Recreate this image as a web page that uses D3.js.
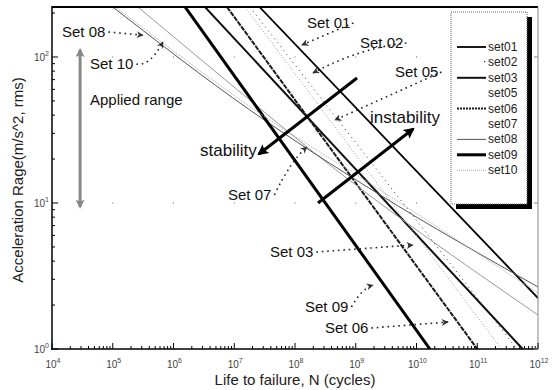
<!DOCTYPE html>
<html>
<head>
<meta charset="utf-8">
<script src="https://cdn.jsdelivr.net/npm/d3@7"></script>
<style>
  body { margin: 0; background: #fff; }
  svg { display: block; font-family: "Liberation Sans", Arial, sans-serif; }
</style>
</head>
<body>
<script>
// S-N curves, [cycles N, acceleration S]
const set01 = [[2.6e7, 220], [1e12, 2.23]];
const set02 = [[1.8e7, 220], [4.5e11, 1]];
const set03 = [[3.3e6, 220], [5.6e11, 1]];
const set05 = [[1.5e7, 220], [2.5e11, 1]];
const set06 = [[7.6e6, 220], [1.0e11, 1]];
const set07 = [[2.6e5, 220], [1.8e7, 50.7], [1.57e8, 24.2], [1e12, 1.71]];
const set08 = [[1.0e5, 220], [1.8e7, 43.4], [2.24e9, 11.7], [1e12, 2.66]];
const set09 = [[1.55e6, 220], [1.66e10, 1]];
const set10 = [[1.12e5, 220], [1.95e7, 44.8], [2.5e9, 12.3], [1e12, 2.42]];

const setNames = ["set01", "set02", "set03", "set05", "set06", "set07", "set08", "set09", "set10"];
const setData = [set01, set02, set03, set05, set06, set07, set08, set09, set10];

// where each "Set xx" callout points, [N, S]
const calloutNames = ["Set 08", "Set 10", "Set 01", "Set 02", "Set 05", "Set 07", "Set 03", "Set 09", "Set 06"];
const calloutTips = [[3.15e5, 141], [6.7e5, 127], [1.3e8, 121], [1.98e8, 77.7], [4.55e8, 37],
                     [1.57e8, 24.2], [8.75e9, 5.16], [1.92e9, 2.74], [3.3e10, 1.53]];

const appliedRangeN = 2.9e4;
const appliedRange = [9.4, 112];

const xDecades = [4, 5, 6, 7, 8, 9, 10, 11, 12];
const yDecades = [0, 1, 2];

const width = 554, height = 390;
const svg = d3.select("body").append("svg").attr("width", width).attr("height", height);

const x = d3.scaleLog().domain([1e4, 1e12]).range([52, 538]);
const y = d3.scaleLog().domain([1, 220]).range([349, 7]);

// line styles
const style = {
  set01: {c: "#000", w: 1.8, d: null},
  set02: {c: "#333", w: 1, d: "1,4"},
  set03: {c: "#111", w: 2, d: null},
  set05: {c: "#999", w: 1, d: "1,2"},
  set06: {c: "#1a1a1a", w: 2, d: "5,1"},
  set07: {c: "#999", w: 1, d: null},
  set08: {c: "#555", w: 1, d: null},
  set09: {c: "#000", w: 3, d: null},
  set10: {c: "#aaa", w: 1, d: "1,1"}
};

svg.append("defs").append("clipPath").attr("id", "plotclip")
  .append("rect").attr("x", 52).attr("y", 7).attr("width", 486).attr("height", 342);

// faint grid dots at decade crossings
const dots = svg.append("g");
xDecades.slice(1, -1).forEach(a => yDecades.slice(1).forEach(b => {
  dots.append("rect").attr("x", x(Math.pow(10, a)) - 0.5).attr("y", y(Math.pow(10, b)) - 0.5)
    .attr("width", 1).attr("height", 1).attr("fill", "#666");
}));

const line = d3.line().x(d => x(d[0])).y(d => y(d[1])).curve(d3.curveMonotoneX);

svg.append("g").attr("clip-path", "url(#plotclip)")
  .selectAll("path")
  .data(setData)
  .enter()
  .append("path")
  .attr("d", d => line(d))
  .attr("fill", "none")
  .attr("stroke", (d, i) => style[setNames[i]].c)
  .attr("stroke-width", (d, i) => style[setNames[i]].w)
  .attr("stroke-dasharray", (d, i) => style[setNames[i]].d);

// frame
svg.append("line").attr("x1", 52).attr("x2", 538).attr("y1", 7).attr("y2", 7)
  .attr("stroke", "#000").attr("stroke-width", 2);
svg.append("line").attr("x1", 538).attr("x2", 538).attr("y1", 7).attr("y2", 349)
  .attr("stroke", "#888").attr("stroke-width", 1);
svg.append("line").attr("x1", 52).attr("x2", 52).attr("y1", 6).attr("y2", 350)
  .attr("stroke", "#000").attr("stroke-width", 1.5);
svg.append("line").attr("x1", 51).attr("x2", 538).attr("y1", 349).attr("y2", 349)
  .attr("stroke", "#000").attr("stroke-width", 1.5);

// log ticks, pointing inwards
const ticks = svg.append("g").attr("stroke", "#000").attr("stroke-width", 1);
xDecades.forEach((a, i) => {
  const v = Math.pow(10, a);
  ticks.append("line").attr("x1", x(v)).attr("x2", x(v)).attr("y1", 349).attr("y2", 343);
  if (i < xDecades.length - 1) {
    for (let k = 2; k < 10; k++) {
      ticks.append("line").attr("x1", x(k * v)).attr("x2", x(k * v)).attr("y1", 349).attr("y2", 346);
    }
  }
});
yDecades.forEach((b) => {
  const v = Math.pow(10, b);
  ticks.append("line").attr("x1", 52).attr("x2", 58).attr("y1", y(v)).attr("y2", y(v));
  ticks.append("line").attr("x1", 538).attr("x2", 534).attr("y1", y(v)).attr("y2", y(v)).attr("stroke", "#888");
  for (let k = 2; k < 10; k++) {
    if (k * v > 220) break;
    ticks.append("line").attr("x1", 52).attr("x2", 55).attr("y1", y(k * v)).attr("y2", y(k * v));
  }
});

// tick labels 10^n
function powLabel(g, px, py, exp, anchor) {
  const t = g.append("text").attr("x", px).attr("y", py).attr("text-anchor", anchor)
    .attr("font-size", 10).attr("fill", "#444");
  t.append("tspan").text("10");
  t.append("tspan").attr("dy", -5).attr("font-size", 7).text(exp);
}
const labels = svg.append("g");
xDecades.forEach(a => powLabel(labels, x(Math.pow(10, a)) + 1, 368, a, "middle"));
yDecades.forEach(b => powLabel(labels, 49, y(Math.pow(10, b)) + 4, b, "end"));

svg.append("text").attr("x", 295).attr("y", 385).attr("text-anchor", "middle")
  .attr("font-size", 15).attr("fill", "#222").text("Life to failure, N (cycles)");
svg.append("text").attr("transform", "translate(23,180) rotate(-90)").attr("text-anchor", "middle")
  .attr("font-size", 15).attr("fill", "#222").text("Acceleration Rage(m/s^2, rms)");

// legend with drop shadow
const lg = svg.append("g");
lg.append("rect").attr("x", 456).attr("y", 17).attr("width", 76).attr("height", 192).attr("fill", "#000");
lg.append("rect").attr("x", 451).attr("y", 12).attr("width", 76).attr("height", 192)
  .attr("fill", "#fff").attr("stroke", "#666").attr("stroke-width", 1).attr("stroke-dasharray", "1,1");
const legendColor = {set02: "#fff", set05: "#fff", set07: "#fff"};
setNames.forEach((n, i) => {
  const ly = 47 + i * 15.4;
  lg.append("line").attr("x1", 457).attr("x2", 486).attr("y1", ly).attr("y2", ly)
    .attr("stroke", legendColor[n] || style[n].c).attr("stroke-width", style[n].w)
    .attr("stroke-dasharray", n === "set06" ? "2,1" : style[n].d);
  lg.append("text").attr("x", 488).attr("y", ly + 4).attr("font-size", 12).attr("fill", "#222").text(n);
});
lg.append("rect").attr("x", 484).attr("y", 61).attr("width", 1.2).attr("height", 1.2).attr("fill", "#333");

// callouts: text position (layout) and dotted leader to the curve
const calloutText = [[62, 37], [90, 69], [307, 28], [360, 48], [395, 77], [228, 200], [270, 257], [305, 312], [325, 333]];
const calloutBend = [0, -14, 0, 10, 0, 10, 0, 8, 0];

const defs = svg.select("defs");
defs.append("marker").attr("id", "tip").attr("viewBox", "0 0 10 10").attr("refX", 9).attr("refY", 5)
  .attr("markerWidth", 7).attr("markerHeight", 7).attr("markerUnits", "userSpaceOnUse").attr("orient", "auto")
  .append("path").attr("d", "M0,0L10,5L0,10L3,5Z").attr("fill", "#333");
defs.append("marker").attr("id", "bigtip").attr("viewBox", "0 0 10 10").attr("refX", 8).attr("refY", 5)
  .attr("markerWidth", 12).attr("markerHeight", 11).attr("markerUnits", "userSpaceOnUse").attr("orient", "auto")
  .append("path").attr("d", "M0,0L10,5L0,10L2,5Z").attr("fill", "#000");
defs.append("marker").attr("id", "graytip").attr("viewBox", "0 0 10 10").attr("refX", 8).attr("refY", 5)
  .attr("markerWidth", 10).attr("markerHeight", 9).attr("markerUnits", "userSpaceOnUse").attr("orient", "auto-start-reverse")
  .append("path").attr("d", "M0,0L10,5L0,10L2,5Z").attr("fill", "#888");

const co = svg.append("g");
calloutNames.forEach((name, i) => {
  const t = co.append("text").attr("x", calloutText[i][0]).attr("y", calloutText[i][1])
    .attr("font-size", 15).attr("fill", "#111").text(name);
  const w = t.node().getComputedTextLength();
  const sx = calloutText[i][0] + w + 3, sy = calloutText[i][1] - 5;
  const tx = x(calloutTips[i][0]), ty = y(calloutTips[i][1]);
  const mx = (sx + tx) / 2, my = (sy + ty) / 2 - calloutBend[i];
  co.append("path").attr("d", `M${sx},${sy}Q${mx},${my} ${tx},${ty}`)
    .attr("fill", "none").attr("stroke", "#222").attr("stroke-width", 1.6)
    .attr("stroke-dasharray", "1.6,3.8").attr("marker-end", "url(#tip)");
});

// applied range double arrow
svg.append("line").attr("x1", x(appliedRangeN)).attr("x2", x(appliedRangeN))
  .attr("y1", y(appliedRange[1])).attr("y2", y(appliedRange[0]))
  .attr("stroke", "#888").attr("stroke-width", 3)
  .attr("marker-start", "url(#graytip)").attr("marker-end", "url(#graytip)");
svg.append("text").attr("x", 90).attr("y", 105).attr("font-size", 15).attr("fill", "#111").text("Applied range");

// stability / instability arrows
svg.append("line").attr("x1", 357).attr("y1", 78).attr("x2", 259).attr("y2", 154)
  .attr("stroke", "#000").attr("stroke-width", 3).attr("marker-end", "url(#bigtip)");
svg.append("line").attr("x1", 318).attr("y1", 203).attr("x2", 413).attr("y2", 129)
  .attr("stroke", "#000").attr("stroke-width", 3).attr("marker-end", "url(#bigtip)");
svg.append("text").attr("x", 200).attr("y", 156).attr("font-size", 17).attr("fill", "#111").text("stability");
svg.append("text").attr("x", 370).attr("y", 123).attr("font-size", 17).attr("fill", "#111").text("instability");
</script>
</body>
</html>
